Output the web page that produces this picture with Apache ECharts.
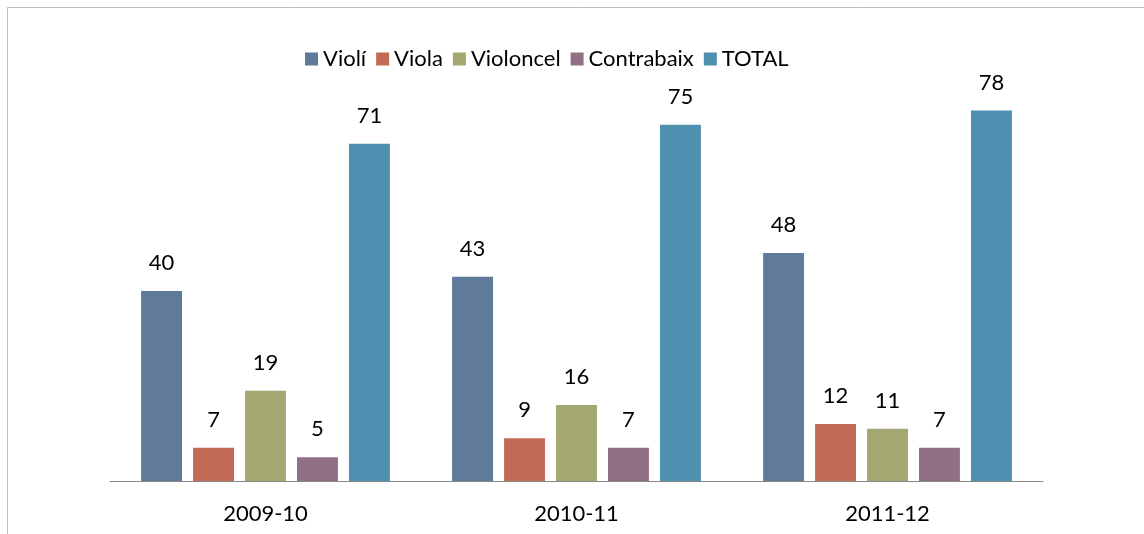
<!DOCTYPE html>
<html>
<head>
<meta charset="utf-8">
<script src="https://cdn.jsdelivr.net/npm/echarts@6/dist/echarts.min.js"></script>
<style>
html,body{margin:0;padding:0;background:#fff;}
#chart{width:1144px;height:534px;}
</style>
</head>
<body>
<div id="chart"></div>
<script>
const categories = ['2009-10', '2010-11', '2011-12'];
const seriesNames = ['Violí', 'Viola', 'Violoncel', 'Contrabaix', 'TOTAL'];
const violi = [40, 43, 48];
const viola = [7, 9, 12];
const violoncel = [19, 16, 11];
const contrabaix = [5, 7, 7];
const total = [71, 75, 78];
const colors = ['#5f7a9a', '#c26a55', '#a4a770', '#917086', '#4d90af'];

const values = [violi, viola, violoncel, contrabaix, total];
const FONT = 'Lato';

const chart = echarts.init(document.getElementById('chart'), null, {renderer: 'canvas'});
chart.setOption({
  animation: false,
  backgroundColor: '#fff',
  color: colors,
  graphic: [{
    type: 'rect',
    shape: {x: 7.5, y: 7.5, width: 1160, height: 560},
    style: {fill: 'none', stroke: '#bdbdbd', lineWidth: 1},
    silent: true
  }],
  legend: {
    left: 300,
    top: 43,
    itemWidth: 13,
    itemHeight: 13,
    itemGap: 10,
    icon: 'rect',
    textStyle: {fontFamily: FONT, fontSize: 22, color: '#000'},
    data: seriesNames
  },
  grid: {left: 110, right: 101, top: 101, bottom: 53, containLabel: false},
  xAxis: {
    type: 'category',
    data: categories,
    axisLine: {lineStyle: {color: '#888', width: 1}},
    axisTick: {show: false},
    axisLabel: {fontFamily: FONT, fontSize: 22, color: '#000', margin: 22}
  },
  yAxis: {
    type: 'value',
    min: 0,
    max: 80,
    show: false,
    splitLine: {show: false}
  },
  series: seriesNames.map((name, i) => ({
    name: name,
    type: 'bar',
    data: values[i],
    barGap: '27%',
    barCategoryGap: '20%',
    itemStyle: {color: colors[i]},
    label: {
      show: true,
      position: 'top',
      distance: 17,
      fontFamily: FONT,
      fontSize: 22,
      color: '#000'
    }
  }))
});
</script>
</body>
</html>
